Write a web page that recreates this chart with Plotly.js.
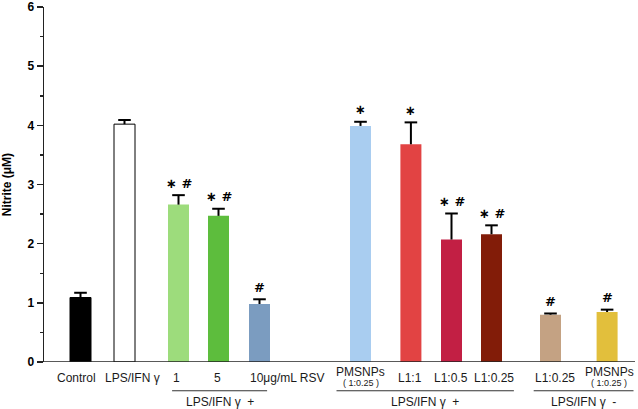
<!DOCTYPE html>
<html>
<head>
<meta charset="utf-8">
<script src="https://cdn.plot.ly/plotly-3.0.1.min.js"></script>
<style>html,body{margin:0;padding:0;background:#fff;}#chart{width:638px;height:409px;}</style>
</head>
<body>
<div id="chart"></div>
<script>
// ---- data ----
var labels = ['Control', 'LPS/IFN γ', '1', '5', '10μg/mL RSV', 'PMSNPs', 'L1:1', 'L1:0.5', 'L1:0.25', 'L1:0.25', 'PMSNPs'];
var subLabels = ['', '', '', '', '', '( 1:0.25 )', '', '', '', '', '( 1:0.25 )'];
var xPos = [0, 1.1, 2.45, 3.45, 4.475, 7.0, 8.26, 9.275, 10.275, 11.75, 13.165];
var values = [1.09, 4.02, 2.66, 2.47, 0.98, 3.99, 3.68, 2.07, 2.16, 0.80, 0.845];
var errors = [0.08, 0.07, 0.16, 0.12, 0.08, 0.07, 0.37, 0.44, 0.15, 0.02, 0.04];
var marks = ['', '', '∗ #', '∗ #', '#', '∗', '∗', '∗ #', '∗ #', '#', '#'];
var groupNames = ['LPS/IFN γ  +', 'LPS/IFN γ  +', 'LPS/IFN γ  -'];
var groupFirst = [2, 5, 9];
var groupLast = [4, 8, 10];
var yTicks = [0, 1, 2, 3, 4, 5, 6];

// ---- styles ----
var colors = ['#000000', '#ffffff', '#9ddc7c', '#5dbd3d', '#7b9cc0', '#a9cdf0', '#e24343', '#c21f44', '#821c08', '#c4a283', '#e2bf3c'];
var outline = ['#000000', '#000000', 'rgba(0,0,0,0)', 'rgba(0,0,0,0)', 'rgba(0,0,0,0)', 'rgba(0,0,0,0)', 'rgba(0,0,0,0)', 'rgba(0,0,0,0)', 'rgba(0,0,0,0)', 'rgba(0,0,0,0)', 'rgba(0,0,0,0)'];
var labelShift = [-4, 8, -2, -1, 0, 0, -1, -1, 2, 4, 2];
var groupPadL = [-0.16, -0.6, -0.42];
var groupPadR = [0.19, 0.56, 0.66];
var FONT = 'Liberation Sans, Arial, sans-serif';

var bars = {
  type: 'bar',
  x: xPos,
  y: values,
  width: 0.525,
  marker: {color: colors, line: {color: outline, width: 1}},
  hoverinfo: 'skip'
};

// upper-only error bars: stems + top caps
var stemX = [], stemY = [], capY = [];
for (var k = 0; k < values.length; k++) {
  stemX.push(xPos[k], xPos[k], null);
  stemY.push(values[k], values[k] + errors[k], null);
  capY.push(values[k] + errors[k]);
}
var stems = {type: 'scatter', mode: 'lines', x: stemX, y: stemY, line: {color: '#000', width: 2}, hoverinfo: 'skip'};
var caps = {type: 'scatter', mode: 'markers', x: xPos, y: capY,
  marker: {symbol: 'line-ew', size: 9, line: {color: '#000', width: 2}}, hoverinfo: 'skip'};

var annotations = [];
for (var i = 0; i < labels.length; i++) {
  var isRsv = labels[i].indexOf('RSV') >= 0;
  if (subLabels[i]) {
    annotations.push({x: xPos[i], y: 0, xref: 'x', yref: 'y', text: labels[i], showarrow: false,
      yanchor: 'middle', xanchor: 'center', yshift: -10, xshift: labelShift[i],
      font: {family: FONT, size: 12, color: '#1a1a1a'}});
    annotations.push({x: xPos[i], y: 0, xref: 'x', yref: 'y', text: subLabels[i], showarrow: false,
      yanchor: 'middle', xanchor: 'center', yshift: -21, xshift: labelShift[i],
      font: {family: FONT, size: 9, color: '#1a1a1a'}});
  } else {
    annotations.push({x: xPos[i], y: 0, xref: 'x', yref: 'y', text: labels[i], showarrow: false,
      yanchor: 'middle', xanchor: isRsv ? 'left' : 'center', yshift: -16, xshift: isRsv ? -12 : labelShift[i],
      font: {family: FONT, size: 12, color: '#1a1a1a'}});
  }
  if (marks[i]) {
    annotations.push({x: xPos[i], y: values[i] + errors[i], xref: 'x', yref: 'y', text: '<b>' + marks[i] + '</b>', showarrow: false,
      yanchor: 'middle', xanchor: 'center', yshift: 12,
      font: {family: 'DejaVu Sans, sans-serif', size: 13, color: '#000'}});
  }
}

var shapes = [];
for (var g = 0; g < groupNames.length; g++) {
  var x0 = xPos[groupFirst[g]] + groupPadL[g];
  var x1 = xPos[groupLast[g]] + groupPadR[g];
  shapes.push({type: 'line', xref: 'x', yref: 'paper', x0: x0, x1: x1, y0: -0.081, y1: -0.081,
    line: {color: '#333', width: 1}});
  annotations.push({x: (x0 + x1) / 2, y: -0.113, xref: 'x', yref: 'paper', text: groupNames[g], showarrow: false,
    yanchor: 'middle', xanchor: 'center', font: {family: FONT, size: 12, color: '#1a1a1a'}});
}

annotations.push({x: -0.063, y: 0.5, xref: 'paper', yref: 'paper', text: '<b>Nitrite (μM)</b>', textangle: -90,
  showarrow: false, xanchor: 'center', yanchor: 'middle', font: {family: FONT, size: 12, color: '#000'}});

var layout = {
  width: 638, height: 409,
  margin: {l: 44, r: 3, t: 7, b: 47},
  paper_bgcolor: '#fff', plot_bgcolor: '#fff',
  showlegend: false,
  bargap: 0,
  xaxis: {range: [-0.9125, 13.8625], showgrid: false, zeroline: false, showticklabels: false,
          ticks: '', showline: false, fixedrange: true},
  yaxis: {range: [0, 6], tickvals: yTicks, ticktext: yTicks.map(function(v){return '<b>' + v + '</b>';}),
          ticks: 'outside', ticklen: 6, tickwidth: 1.5, tickcolor: '#222',
          minor: {dtick: 0.5, ticks: 'outside', ticklen: 3, tickwidth: 1.5, tickcolor: '#222'},
          showline: true, linecolor: '#222', linewidth: 1.5, showgrid: false, zeroline: false,
          tickfont: {family: FONT, size: 12, color: '#000'}, fixedrange: true},
  shapes: shapes.concat([{type: 'line', xref: 'paper', yref: 'y', x0: 0, x1: 1, y0: 0, y1: 0,
    line: {color: '#222', width: 1.5}}]),
  annotations: annotations
};

Plotly.newPlot('chart', [bars, stems, caps], layout, {displayModeBar: false, staticPlot: true});
</script>
</body>
</html>
